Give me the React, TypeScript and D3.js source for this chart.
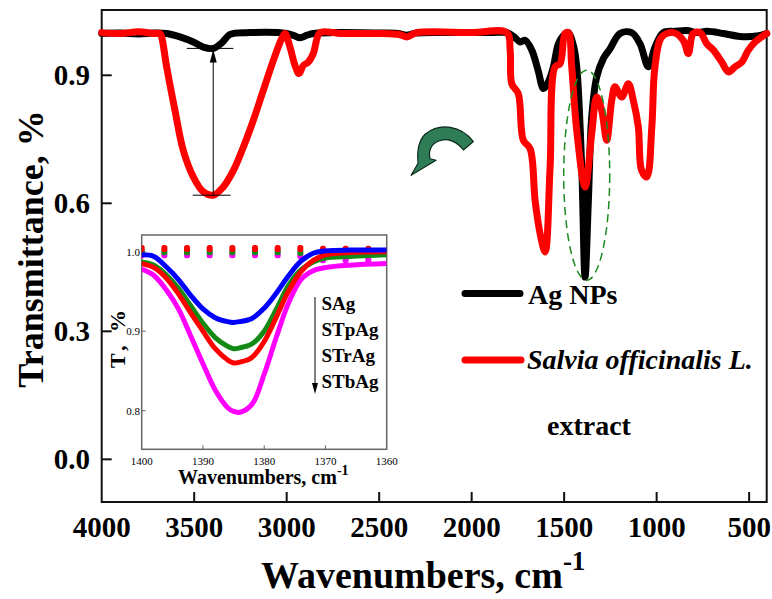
import React from "react";
import * as d3 from "d3";

// ---------- Main spectrum data ----------
const agWave = [4000, 3900, 3800, 3720, 3649, 3577, 3505, 3451, 3397, 3351, 3306, 3198, 3000, 2960, 2928, 2890, 2856, 2750, 2500, 2400, 2351, 2300, 2100, 1900, 1810, 1770, 1738, 1711, 1675, 1640, 1612, 1585, 1558, 1531, 1500, 1477, 1450, 1432, 1405, 1387, 1369, 1351, 1324, 1288, 1252, 1198, 1135, 1090, 1045, 1009, 964, 900, 837, 780, 729, 639, 549, 459, 405];
const agT = [0.998, 0.999, 0.997, 0.999, 0.998, 0.99, 0.978, 0.966, 0.963, 0.976, 0.996, 1.0, 0.998, 0.993, 0.988, 0.994, 0.998, 1.0, 0.999, 0.998, 0.994, 0.999, 1.0, 1.0, 1.0, 0.99, 0.978, 0.982, 0.959, 0.91, 0.869, 0.885, 0.92, 0.974, 0.995, 1.0, 0.97, 0.92, 0.685, 0.427, 0.607, 0.802, 0.896, 0.939, 0.962, 0.998, 1.0, 0.974, 0.92, 0.966, 1.0, 1.003, 1.005, 1.0, 1.003, 0.998, 0.991, 0.992, 0.998];

const salviaWave = [4000, 3900, 3800, 3720, 3685, 3676, 3649, 3604, 3559, 3505, 3451, 3397, 3343, 3288, 3234, 3180, 3126, 3072, 3027, 3009, 2982, 2955, 2933, 2910, 2883, 2856, 2820, 2748, 2712, 2500, 2387, 2351, 2297, 2000, 1810, 1792, 1783, 1748, 1721, 1684, 1657, 1630, 1603, 1576, 1549, 1522, 1495, 1477, 1459, 1432, 1387, 1351, 1324, 1297, 1270, 1243, 1225, 1189, 1153, 1126, 1099, 1081, 1053, 1026, 1009, 972, 910, 856, 829, 802, 765, 729, 693, 648, 612, 576, 540, 504, 468, 405];
const salviaT = [1.0, 0.998, 1.002, 0.998, 0.998, 0.99, 0.92, 0.818, 0.724, 0.662, 0.627, 0.619, 0.638, 0.677, 0.732, 0.795, 0.865, 0.935, 0.986, 0.998, 0.966, 0.923, 0.904, 0.923, 0.931, 0.951, 1.0, 1.0, 0.998, 0.998, 0.995, 0.99, 1.0, 1.0, 1.0, 0.959, 0.88, 0.857, 0.748, 0.728, 0.607, 0.529, 0.486, 0.685, 0.92, 0.927, 0.998, 1.0, 0.92, 0.771, 0.638, 0.763, 0.849, 0.818, 0.748, 0.841, 0.873, 0.849, 0.88, 0.841, 0.779, 0.677, 0.662, 0.779, 0.92, 0.99, 1.0, 0.982, 0.951, 0.998, 1.0, 0.974, 0.959, 0.931, 0.908, 0.92, 0.931, 0.959, 0.978, 0.998];

const xTickValues = [4000, 3500, 3000, 2500, 2000, 1500, 1000, 500];
const yTickValues = [0.0, 0.3, 0.6, 0.9];

// ---------- Inset data ----------
const insetWave = [1400, 1398, 1396, 1394, 1392, 1390, 1388, 1386, 1385, 1384, 1382, 1380, 1378, 1376, 1374, 1372, 1370, 1366, 1360];
const insetSAg = [0.996, 0.994, 0.981, 0.965, 0.945, 0.928, 0.917, 0.912, 0.911, 0.912, 0.916, 0.929, 0.948, 0.97, 0.988, 0.998, 1.001, 1.002, 1.002];
const insetSTpAg = [0.987, 0.983, 0.971, 0.954, 0.932, 0.91, 0.892, 0.881, 0.878, 0.879, 0.884, 0.9, 0.928, 0.958, 0.977, 0.987, 0.992, 0.994, 0.996];
const insetSTrAg = [0.985, 0.98, 0.967, 0.947, 0.923, 0.9, 0.878, 0.864, 0.86, 0.861, 0.867, 0.887, 0.918, 0.951, 0.975, 0.989, 0.996, 0.999, 1.0];
const insetSTbAg = [0.978, 0.97, 0.952, 0.928, 0.894, 0.859, 0.826, 0.804, 0.799, 0.798, 0.808, 0.846, 0.893, 0.936, 0.965, 0.976, 0.98, 0.983, 0.985];

const dotWave = [1400, 1396.3, 1392.6, 1388.9, 1385.2, 1381.5, 1377.8, 1374.1, 1370.4, 1366.7, 1363.0];
const dotRed = [1.004, 1.004, 1.004, 1.004, 1.004, 1.004, 1.004, 1.004, 1.003, 1.003, 1.003];
const dotGreen = [1.0, 1.0, 1.0, 1.0, 1.0, 1.0, 1.0, 0.999, 0.998, 0.998, 0.998];
const dotMagenta = [0.996, 0.996, 0.996, 0.996, 0.996, 0.996, 0.996, 0.995, 0.99, 0.99, 0.99];

const insetXTicks = [1400, 1390, 1380, 1370, 1360];
const insetYTicks = [0.8, 0.9, 1.0];
const insetLegend = ["SAg", "STpAg", "STrAg", "STbAg"];

const FONT = "'Liberation Serif', 'Times New Roman', serif";

export default function App() {
  const W = 772, H = 599;
  const x = d3.scaleLinear().domain([4000, 405]).range([101.7, 766.7]);
  const y = d3.scaleLinear().domain([-0.1, 1.053]).range([502, 10]);

  const ix = d3.scaleLinear().domain([1400, 1360]).range([141.7, 386.7]);
  const iy = d3.scaleLinear().domain([0.7514, 1.021]).range([449.3, 235]);

  const mainLine = d3.line<[number, number]>()
    .x((d) => x(d[0])).y((d) => y(d[1]))
    .curve(d3.curveCatmullRom.alpha(0.5));
  const insetLine = d3.line<[number, number]>()
    .x((d) => ix(d[0])).y((d) => iy(d[1]))
    .curve(d3.curveCatmullRom.alpha(0.5));

  const agPts = agWave.map((w, i) => [w, agT[i]] as [number, number]);
  const salPts = salviaWave.map((w, i) => [w, salviaT[i]] as [number, number]);

  const [x0, x1] = x.range();
  const [yb, yt] = y.range();

  const insetSeries = [
    { vals: insetSTbAg, color: "#ff00ff" },
    { vals: insetSTpAg, color: "#138a13" },
    { vals: insetSTrAg, color: "#ff0000" },
    { vals: insetSAg, color: "#0000ff" },
  ];
  const dotSeries = [
    { vals: dotMagenta, color: "#ff00ff" },
    { vals: dotGreen, color: "#138a13" },
    { vals: dotRed, color: "#ff0000" },
  ];

  const mX = x(3397);
  const mTop = y(0.963);
  const mBot = y(0.619);

  const gA = [x(2414), y(0.818)];
  const eC = [x(1378), y(0.666)];

  return (
    <svg width={W} height={H} style={{ display: "block", position: "absolute", left: 0, top: 0, background: "#fff" }} fontFamily={FONT}>
      <rect x={0} y={0} width={W} height={H} fill="#fff" />

      <rect x={x0} y={yt} width={x1 - x0} height={yb - yt} fill="none" stroke="#111" strokeWidth={2} />

      {xTickValues.map((v) => (
        <g key={"xt" + v}>
          {v !== 4000 && <line x1={x(v)} x2={x(v)} y1={yb} y2={yb - 10} stroke="#111" strokeWidth={2} />}
          <text x={x(v)} y={537} textAnchor="middle" fontSize={29} fontWeight="bold" fill="#000">{v}</text>
        </g>
      ))}
      {yTickValues.map((v) => (
        <g key={"yt" + v}>
          <line x1={x0} x2={x0 + 10} y1={y(v)} y2={y(v)} stroke="#111" strokeWidth={2} />
          <text x={90} y={y(v) + 10} textAnchor="end" fontSize={29} fontWeight="bold" fill="#000">{v.toFixed(1)}</text>
        </g>
      ))}

      <text x={261} y={588} fontSize={38} fontWeight="bold" fill="#000">
        Wavenumbers, cm<tspan dy={-18} fontSize={27}>-1</tspan>
      </text>
      <text transform="rotate(-90)" x={-249} y={43} textAnchor="middle" fontSize={36} fontWeight="bold" fill="#000">
        Transmittance, %
      </text>

      <path d={mainLine(agPts) || ""} fill="none" stroke="#000" strokeWidth={7} strokeLinejoin="round" strokeLinecap="round" />
      <path d={mainLine(salPts) || ""} fill="none" stroke="#ff0000" strokeWidth={7} strokeLinejoin="round" strokeLinecap="round" />

      <line x1={mX} x2={mX} y1={mBot} y2={mTop + 4} stroke="#000" strokeWidth={1} />
      <path d={`M${mX},${mTop + 1} L${mX - 3.5},${mTop + 14} L${mX + 3.5},${mTop + 14} Z`} fill="#000" />
      <line x1={x(3540)} x2={x(3288)} y1={mTop} y2={mTop} stroke="#000" strokeWidth={1} />
      <line x1={x(3508)} x2={x(3303)} y1={mBot} y2={mBot} stroke="#000" strokeWidth={1} />

      <g transform={`translate(${gA[0]},${gA[1] + 3})`}>
        <path
          d="M78.3,28.3 C66,12 45,9 30,21 C23,28 22,40 23,50 L16,62 L41,47 L35,45.5 C33,38 36,31 43,28 C52,24 62,28 68.3,36.7 Z"
          fill="#2e7d57" stroke="#0b2a1a" strokeWidth={1.2} strokeLinejoin="round"
        />
      </g>

      <ellipse cx={eC[0]} cy={eC[1]} rx={23} ry={105} fill="none" stroke="#1f8a1f" strokeWidth={1.5} strokeDasharray="8,5" />

      <line x1={465} x2={520} y1={293.5} y2={293.5} stroke="#000" strokeWidth={7} strokeLinecap="round" />
      <text x={528} y={303.5} fontSize={28} fontWeight="bold" fill="#000">Ag NPs</text>
      <line x1={465} x2={521} y1={360} y2={360} stroke="#ff0000" strokeWidth={7} strokeLinecap="round" />
      <text x={527} y={368.5} fontSize={28} fontWeight="bold" fontStyle="italic" fill="#000">Salvia officinalis L.</text>
      <text x={547} y={435} fontSize={28} fontWeight="bold" fill="#000">extract</text>

      {/* inset */}
      <rect x={ix.range()[0]} y={iy.range()[1]} width={ix.range()[1] - ix.range()[0]} height={iy.range()[0] - iy.range()[1]} fill="#fff" stroke="#666" strokeWidth={1.5} />
      {insetXTicks.map((v) => (
        <g key={"ixt" + v}>
          {v !== 1400 && v !== 1360 && <line x1={ix(v)} x2={ix(v)} y1={iy.range()[0]} y2={iy.range()[0] - 4} stroke="#666" strokeWidth={1} />}
          <text x={ix(v)} y={464.5} textAnchor="middle" fontSize={11} fill="#000">{v}</text>
        </g>
      ))}
      {insetYTicks.map((v) => (
        <g key={"iyt" + v}>
          <line x1={ix.range()[0]} x2={ix.range()[0] + 4} y1={iy(v)} y2={iy(v)} stroke="#666" strokeWidth={1} />
          <text x={140} y={iy(v) + 4} textAnchor="end" fontSize={11} fill="#000">{v.toFixed(1)}</text>
        </g>
      ))}

      <defs>
        <clipPath id="insetClip">
          <rect x={ix.range()[0]} y={iy.range()[1]} width={ix.range()[1] - ix.range()[0]} height={iy.range()[0] - iy.range()[1]} />
        </clipPath>
      </defs>
      <g clipPath="url(#insetClip)">
        {dotSeries.map((s, si) => (
          <g key={"ds" + si}>
            {dotWave.map((w, i) => (
              <rect key={i} x={ix(w) - 3} y={iy(s.vals[i]) - 3.5} width={6} height={7} rx={2.5} fill={s.color} />
            ))}
          </g>
        ))}
        {insetSeries.map((s, si) => (
          <path key={"is" + si}
            d={insetLine(insetWave.map((w, i) => [w, s.vals[i]] as [number, number])) || ""}
            fill="none" stroke={s.color} strokeWidth={5} strokeLinejoin="round" />
        ))}
      </g>

      <line x1={315} x2={315} y1={297} y2={386} stroke="#000" strokeWidth={1} />
      <path d="M315,394 L312,383 L318,383 Z" fill="#000" />
      {insetLegend.map((t, i) => (
        <text key={t} x={321.5} y={310 + i * 26} fontSize={19} fontWeight="bold" fill="#000">{t}</text>
      ))}

      <text x={178} y={484} fontSize={20} fontWeight="bold" fill="#000">
        Wavenumbers, cm<tspan dy={-9} fontSize={14}>-1</tspan>
      </text>
      <text transform="rotate(-90)" x={-337} y={125} textAnchor="middle" fontSize={22} fontWeight="bold" letterSpacing={4} fill="#000">
        T, %
      </text>
    </svg>
  );
}
